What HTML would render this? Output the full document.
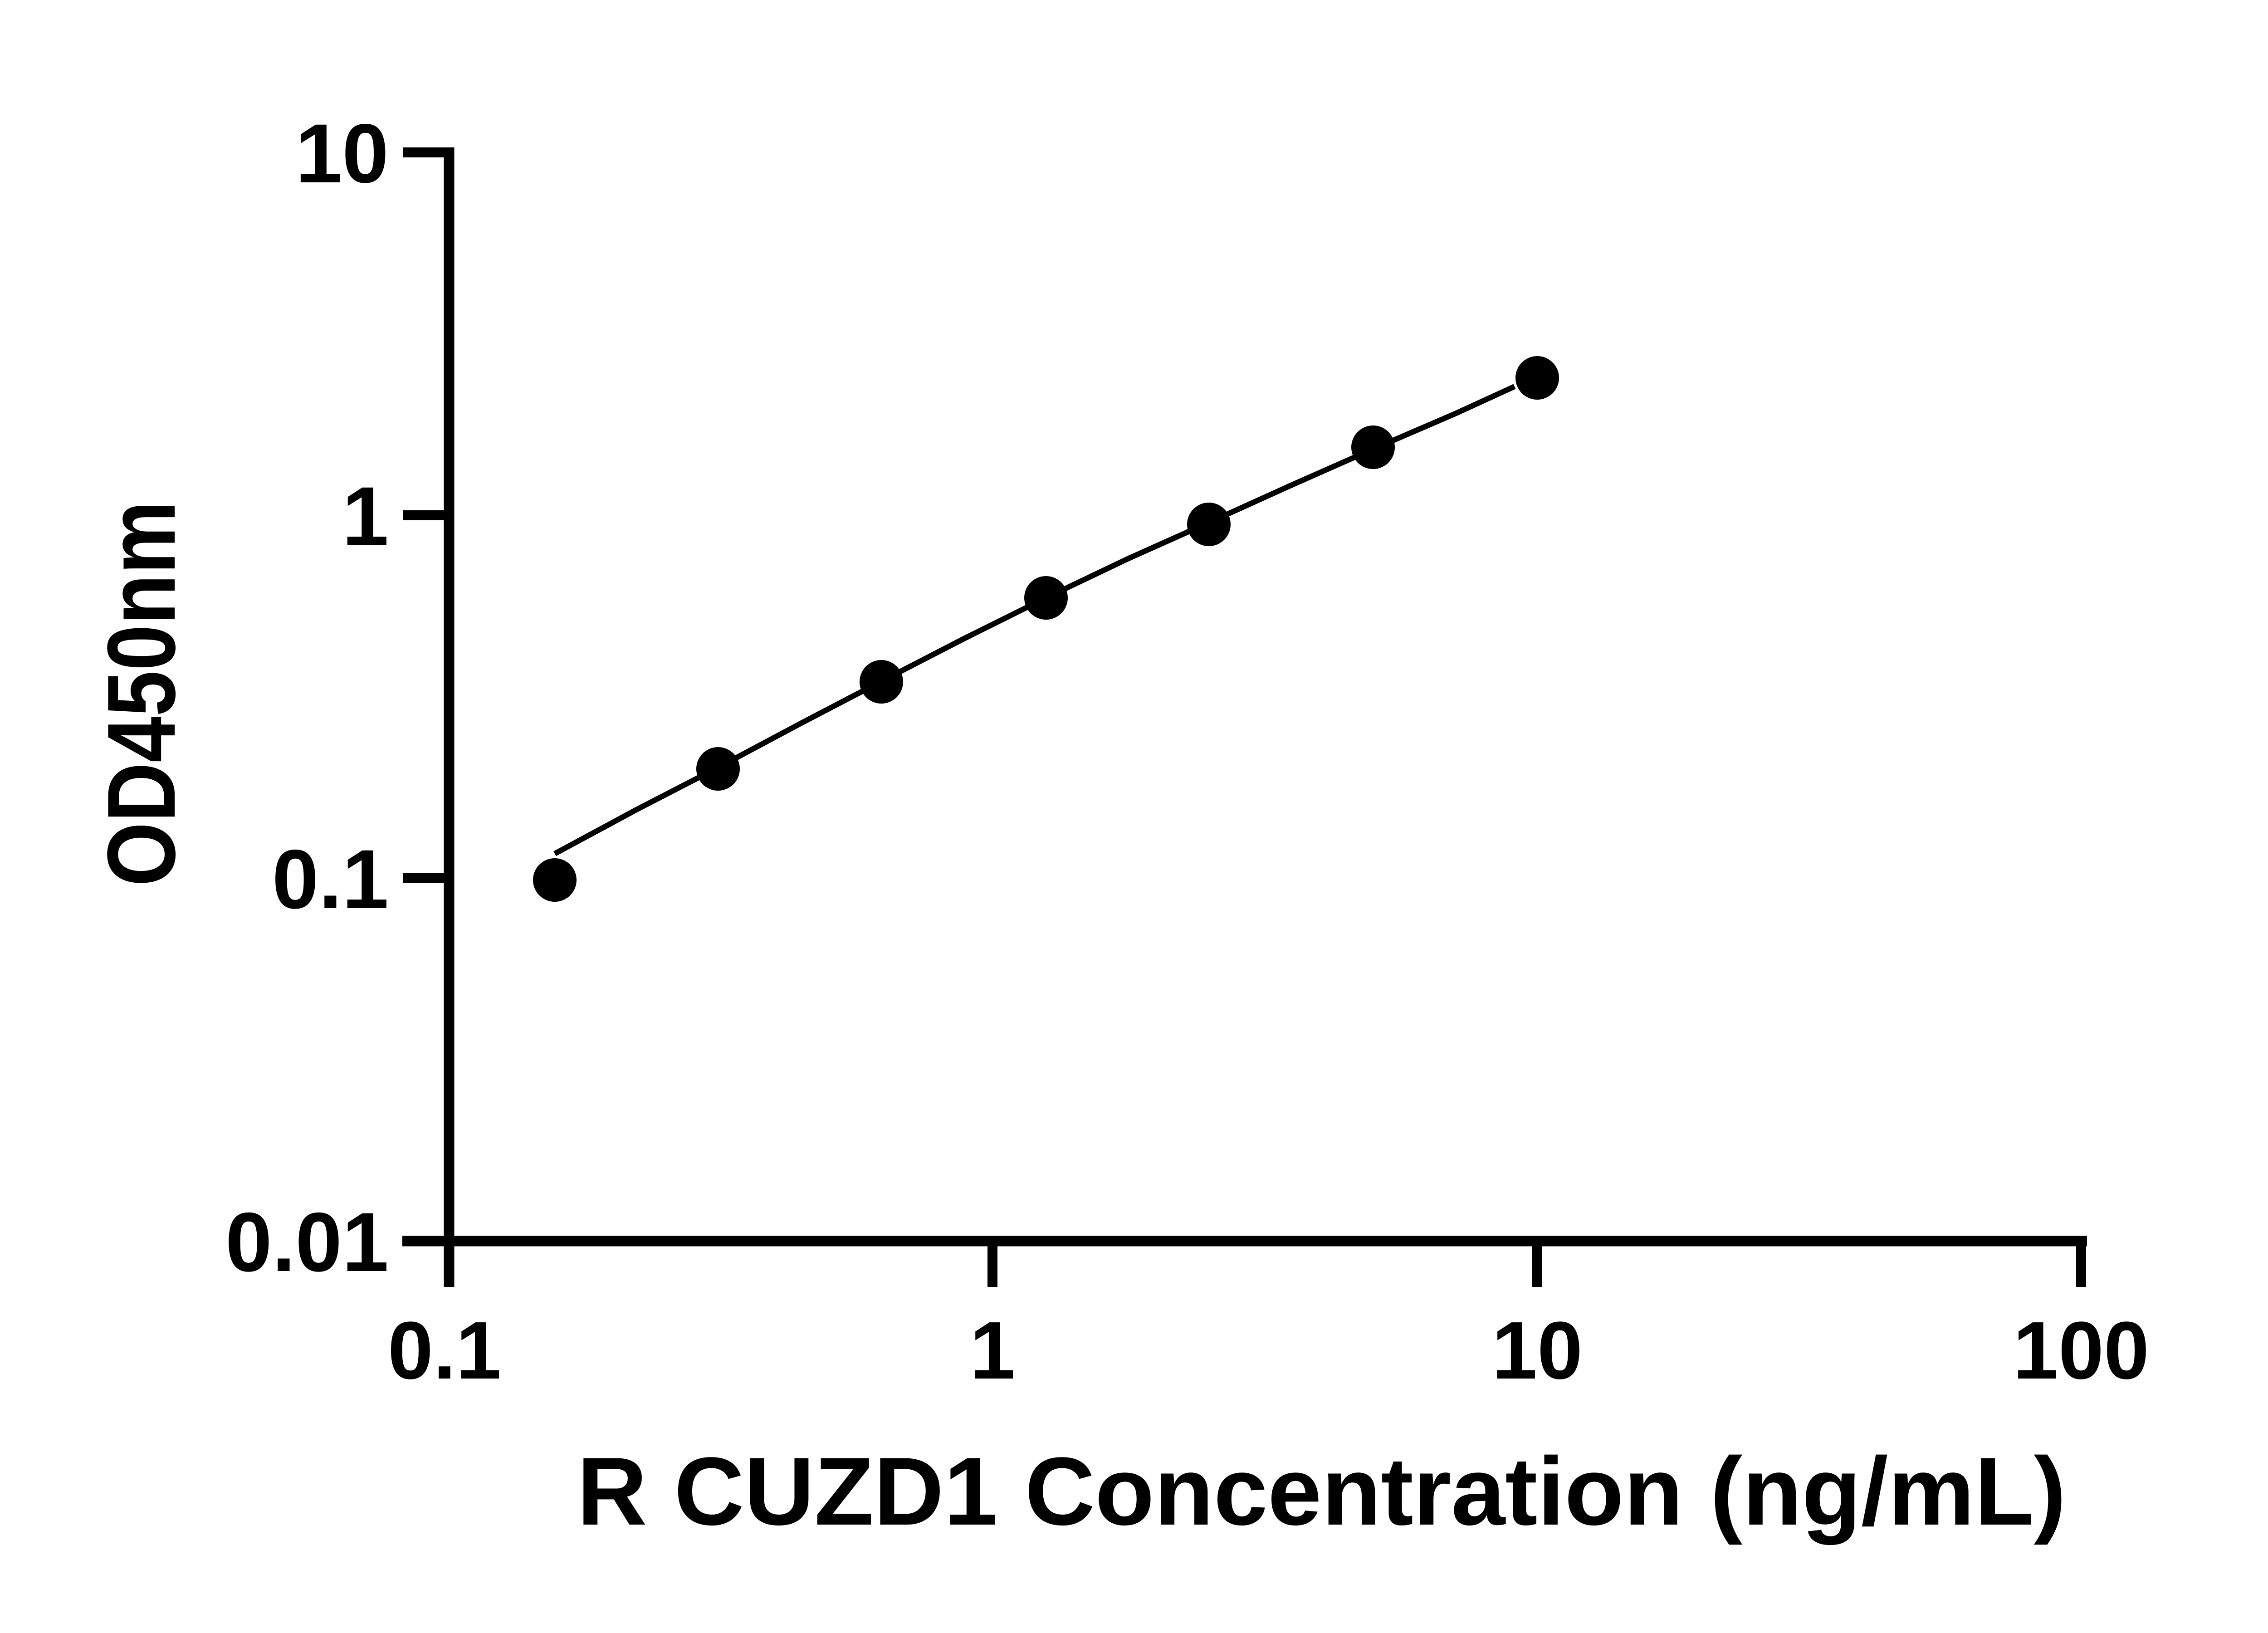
<!DOCTYPE html>
<html><head><meta charset="utf-8"><style>html,body{margin:0;padding:0;background:#fff}svg{display:block}</style></head>
<body>
<svg width="5142" height="3600" viewBox="0 0 5142 3600" xmlns="http://www.w3.org/2000/svg">
<rect width="5142" height="3600" fill="#fff"/>
<g stroke="#000" fill="none">
<line x1="990" y1="325" x2="990" y2="2837" stroke-width="23"/>
<line x1="887" y1="2736" x2="4601" y2="2736" stroke-width="23"/>
<g stroke-width="22">
<line x1="888" y1="336" x2="990" y2="336"/>
<line x1="888" y1="1136" x2="990" y2="1136"/>
<line x1="888" y1="1936" x2="990" y2="1936"/>
<line x1="888" y1="2736" x2="990" y2="2736"/>
<line x1="2188" y1="2736" x2="2188" y2="2837"/>
<line x1="3389" y1="2736" x2="3389" y2="2837"/>
<line x1="4588" y1="2736" x2="4588" y2="2837"/>
</g>
<polyline stroke-width="12" stroke-linejoin="round" points="1223,1882 1403,1785 1583,1692 1763,1596 1943,1502 2125,1408 2306,1318 2486,1232 2665,1152 2846,1070 3027,990 3208,912 3339,852"/>
</g>
<g fill="#000">
<circle cx="1223" cy="1940" r="48"/>
<circle cx="1583" cy="1695" r="48"/>
<circle cx="1943" cy="1503" r="48"/>
<circle cx="2306" cy="1318" r="48"/>
<circle cx="2665" cy="1156" r="48"/>
<circle cx="3027" cy="986" r="48"/>
<circle cx="3389" cy="833" r="48"/>
</g>
<g font-family="Liberation Sans, sans-serif" font-weight="bold" fill="#000">
<g font-size="185" text-anchor="end">
<text x="857" y="402">10</text>
<text x="857" y="1202">1</text>
<text x="857" y="2002">0.1</text>
<text x="857" y="2802">0.01</text>
</g>
<g font-size="180" text-anchor="middle">
<text x="980" y="3039">0.1</text>
<text x="2188" y="3039">1</text>
<text x="3389" y="3039">10</text>
<text x="4588" y="3039">100</text>
</g>
<text x="1272" y="3361" font-size="213" textLength="3283" lengthAdjust="spacingAndGlyphs">R CUZD1 Concentration (ng/mL)</text>
<text transform="translate(385,1954) rotate(-90)" font-size="213" textLength="850" lengthAdjust="spacingAndGlyphs">OD450nm</text>
</g>
</svg>
</body></html>
